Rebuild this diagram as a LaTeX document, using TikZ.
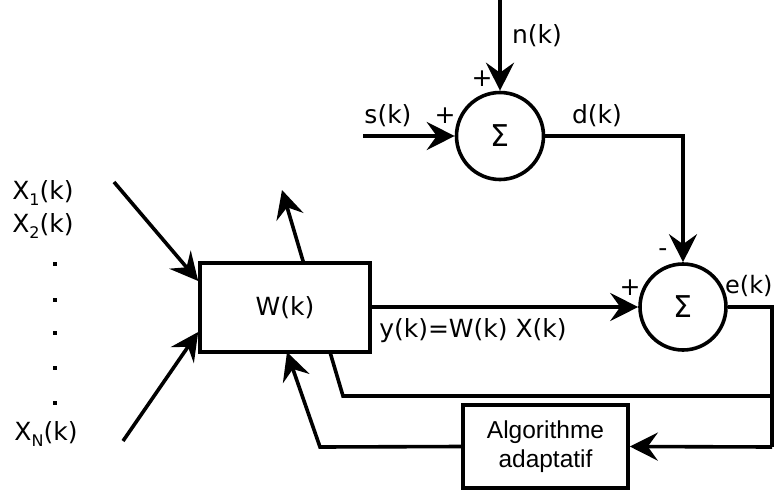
\documentclass[tikz,border=0pt]{standalone}
\usepackage{fontspec}
\setmainfont{DejaVu Sans}
\newfontfamily\arialf{Liberation Sans}
\usetikzlibrary{arrows.meta}
\begin{document}
\begin{tikzpicture}[x=1pt,y=-1pt,
  font=\fontsize{25}{29}\selectfont,
  wire/.style={line width=3.6pt},
  arr/.style={wire,-{Stealth[length=28pt,width=28pt,inset=10pt]}},
  blk/.style={draw,line width=3.6pt,fill=white,inner sep=0pt},
  sumnode/.style={draw,circle,line width=3.6pt,fill=white,minimum size=87pt,inner sep=0pt,font=\fontsize{30}{30}\selectfont},
  lbl/.style={inner sep=0pt},
  dotmark/.style={fill,minimum size=4.5pt,inner sep=0pt}]
\useasboundingbox (0,0) rectangle (774,493);
% diagonal adaptation arrow (behind the W box)
\coordinate (eMid) at (772,396);
\coordinate (fb1) at (343,396);
\coordinate (fbTop) at (282,190);
\draw[arr] (eMid) -- (fb1) -- (fbTop);
% blocks
\node[blk,minimum width=170pt,minimum height=89pt] (W) at (285,307.5) {W(k)};
\node[sumnode] (S1) at (500,136) {Σ};
\node[sumnode,minimum size=86pt] (S2) at (683,307) {Σ};
\node[blk,minimum width=165pt,minimum height=83pt,align=center,font=\arialf\fontsize{24.5}{29}\selectfont] (A) at (545.5,446.5) {Algorithme\\adaptatif};
% coordinates
\coordinate (nTop) at (500,0);
\coordinate (sIn) at (363,136);
\coordinate (dC) at (683,136);
\coordinate (eR) at (772,307);
\coordinate (eBot) at (772,447);
\coordinate (aL) at (320,447);
\coordinate (x1s) at (114,182);
\coordinate (xNs) at (123,441);
% connectors
\draw[arr] (nTop) -- (S1.north);
\draw[arr] (sIn) -- (S1.west);
\draw[arr] (S1.east) -- (dC) -- (S2.north);
\draw[arr] (W.east |- S2.west) -- (S2.west);
\draw[wire] (S2.east) -- (eR) -- (eBot);
\draw[arr] (eBot) -- (A.east);
\draw[arr] (A.west) -- (aL) -- (287,352);
\draw[arr] (x1s) -- (W.west |- 0,281);
\draw[arr] (xNs) -- (W.west |- 0,332);
% labels
\node[lbl] (ln) at (537,36) {n(k)};
\node[lbl] (lp1) at (482,79) {+};
\node[lbl] (ls) at (388,116) {s(k)};
\node[lbl] (lp2) at (445,116) {+};
\node[lbl] (ld) at (597,116) {d(k)};
\node[lbl] (lm) at (663,253) {-};
\node[lbl] (lp3) at (630,288) {+};
\node[lbl,anchor=west,font=\fontsize{24}{28}\selectfont] (le) at (725,286) {e(k)};
\node[lbl] (ly) at (473,331) {y(k)=W(k) X(k)};
\node[lbl] (lx1) at (43,193) {X\raisebox{-0.22em}{\fontsize{16}{16}\selectfont 1}(k)};
\node[lbl] (lx2) at (43,226) {X\raisebox{-0.22em}{\fontsize{16}{16}\selectfont 2}(k)};
\node[dotmark] (d1) at (55,264) {};
\node[dotmark] (d2) at (55,300) {};
\node[dotmark] (d3) at (55,333) {};
\node[dotmark] (d4) at (55,368) {};
\node[dotmark] (d5) at (55,403) {};
\node[lbl] (lxN) at (46,434) {X\raisebox{-0.22em}{\fontsize{16}{16}\selectfont N}(k)};
\end{tikzpicture}
\end{document}
